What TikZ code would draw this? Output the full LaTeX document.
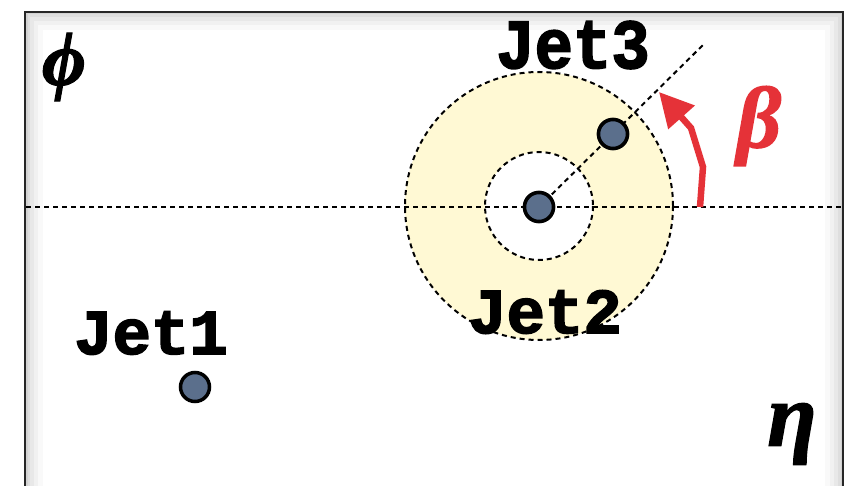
\documentclass[tikz,border=0pt]{standalone}
\usepackage{fontspec}
\newfontfamily\jetfont{Liberation Mono}[BoldFeatures={FakeBold=2.5}]
\newfontfamily\greekfont{Liberation Serif}[BoldItalicFeatures={FakeBold=1.5}]
\usetikzlibrary{arrows.meta}
\definecolor{dotblue}{HTML}{5B6F8C}
\definecolor{annulus}{HTML}{FFF9D4}
\definecolor{betared}{HTML}{E53238}
\tikzset{
  axisline/.style={line width=2pt, dash pattern=on 5pt off 4pt, black},
  ringline/.style={line width=2pt, dash pattern=on 5pt off 4pt, black},
  jetdot/.style={circle, draw=black, line width=3.5pt, fill=dotblue, minimum size=29pt, inner sep=0pt},
  jetlabel/.style={font=\jetfont\bfseries\fontsize{64}{64}\selectfont, inner sep=0pt},
  greeklabel/.style={inner sep=0pt, font=\greekfont\bfseries\itshape},
  redarrow/.style={draw=betared, line width=6.5pt, -{Triangle[length=34pt,width=34pt]}},
}
\begin{document}
\begin{tikzpicture}[x=1pt,y=-1pt]
\useasboundingbox (0,0) rectangle (851,486);
\fill[white] (0,0) rectangle (851,486);
% inner shadow of the frame
\begin{scope}
\clip (25,12) rectangle (843,520);
\foreach \w/\o in {36/0.025,26/0.03,18/0.035,10/0.04,5/0.05}
  \draw[black, opacity=\o, line width=\w pt] (25,12) rectangle (843,520);
\end{scope}
\draw[black!85, line width=2.5pt] (25,12) rectangle (843,520);
% annulus
\fill[annulus, even odd rule] (539,206) circle[radius=134] (539,206) circle[radius=54];
\draw[ringline] (539,206) circle[radius=134];
\draw[ringline] (539,206) circle[radius=54];
% axes lines
\coordinate (hl) at (26,207);
\coordinate (hr) at (842,207);
\draw[axisline] (hl) -- (hr);
\node[jetdot] (jet2) at (539,207) {};
\node[jetdot] (jet3) at (613,134) {};
\node[jetdot] (jet1) at (195,387) {};
\coordinate (dend) at (705,43);
\draw[axisline] (jet2.center) -- (dend);
\node[jetdot] at (jet3) {};
\node[jetdot] at (jet2) {};
% labels
\node[jetlabel] (l1) at (151,333) {Jet1};
\node[jetlabel] (l2) at (545,312) {Jet2};
\node[jetlabel, yscale=1.1] (l3) at (573,45) {Jet3};
\node[greeklabel, scale=7.6] (phi) at (64,67) {ϕ};
\node[greeklabel, scale=9.0] (eta) at (792,434) {η};
\node[greeklabel, scale=8.7, text=betared] (beta) at (759,126) {β};
% beta arrow
\coordinate (a0) at (700,207);
\coordinate (a1) at (703,167);
\coordinate (a2) at (691,128);
\coordinate (a3) at (659,92);
\draw[redarrow] (a0) -- (a1) -- (a2) -- (a3);
\end{tikzpicture}
\end{document}
